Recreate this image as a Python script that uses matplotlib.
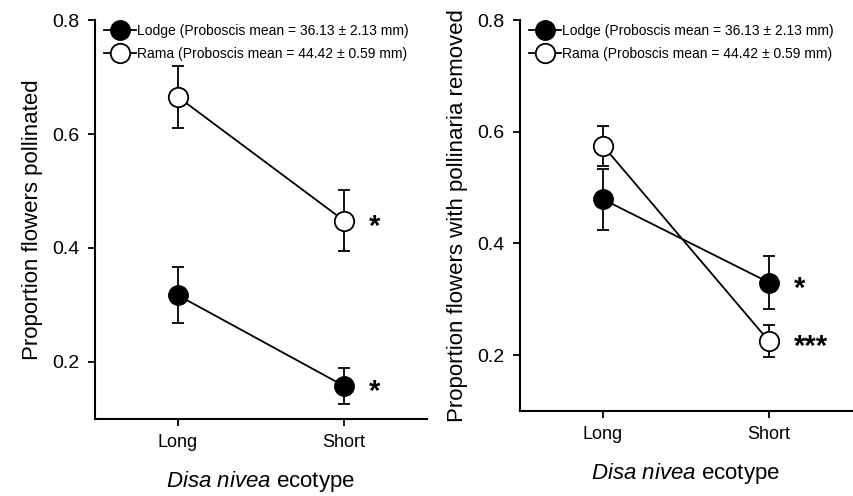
import matplotlib
matplotlib.use("Agg")
import matplotlib.pyplot as plt
from matplotlib.lines import Line2D
import matplotlib.transforms as mtransforms

plt.rcParams['font.family'] = ['Liberation Sans', 'DejaVu Sans']
plt.rcParams['mathtext.fontset'] = 'custom'
plt.rcParams['mathtext.rm'] = 'Liberation Sans'
plt.rcParams['mathtext.it'] = 'Liberation Sans:italic'

categories = ["Long", "Short"]
legend_labels = ["Lodge (Proboscis mean = 36.13 \u00b1 2.13 mm)",
                 "Rama (Proboscis mean = 44.42 \u00b1 0.59 mm)"]

# Panel A: proportion flowers pollinated
pollinated_lodge = [0.317, 0.158]
pollinated_lodge_err = [0.049, 0.032]
pollinated_rama = [0.665, 0.448]
pollinated_rama_err = [0.055, 0.054]
pollinated_sig = ["*", "*"]  # lodge short, rama short

# Panel B: proportion flowers with pollinaria removed
removed_lodge = [0.479, 0.330]
removed_lodge_err = [0.055, 0.047]
removed_rama = [0.575, 0.225]
removed_rama_err = [0.036, 0.029]
removed_sig = ["*", "***"]

yticks = [0.2, 0.4, 0.6, 0.8]

fig = plt.figure(figsize=(8.54, 4.96), dpi=100)
W, H = 854, 496

def make_ax(x0, x1, ytop, ybot):
    return fig.add_axes([x0 / W, 1 - ybot / H, (x1 - x0) / W, (ybot - ytop) / H])

axL = make_ax(95, 427, 20, 419)
axR = make_ax(520, 852, 20, 411)

def draw(ax, lodge, lodge_err, rama, rama_err, sig, ylabel):
    xs = list(range(len(categories)))
    ax.errorbar(xs, lodge, yerr=lodge_err, color='black', lw=1.3, capsize=4.3,
                capthick=1.3, marker='o', ms=14, mfc='black', mec='black', zorder=3)
    ax.errorbar(xs, rama, yerr=rama_err, color='black', lw=1.3, capsize=4.3,
                capthick=1.3, marker='o', ms=14, mfc='white', mec='black', mew=1.3, zorder=3)
    off = mtransforms.offset_copy(ax.transData, fig=fig, x=0, y=-6, units='dots')
    ax.text(1.15, lodge[1], sig[0], fontsize=21, fontweight='bold', ha='left', va='center', transform=off)
    ax.text(1.15, rama[1], sig[1], fontsize=21, fontweight='bold', ha='left', va='center', transform=off)
    ax.set_xlim(-0.5, 1.5)
    ax.set_ylim(0.1, 0.8)
    ax.set_xticks(xs)
    ax.set_xticklabels(categories, fontsize=13)
    ax.set_yticks(yticks)
    ax.set_yticklabels([f"{v:.1f}" for v in yticks], fontsize=14)
    ax.spines['top'].set_visible(False)
    ax.spines['right'].set_visible(False)
    ax.spines['left'].set_linewidth(1.5)
    ax.spines['bottom'].set_linewidth(1.5)
    ax.tick_params(direction='out', length=5, width=1.3, pad=6)
    ax.set_ylabel(ylabel, fontsize=16, labelpad=7)
    ax.set_xlabel(r"$\mathit{Disa\ nivea}$ ecotype", fontsize=16, labelpad=13)
    handles = [
        Line2D([0], [0], color='black', lw=1.3, marker='o', ms=14, mfc='black', mec='black'),
        Line2D([0], [0], color='black', lw=1.3, marker='o', ms=14, mfc='white', mec='black', mew=1.3),
    ]
    ax.legend(handles, legend_labels, loc='upper left', frameon=False, fontsize=10.0,
              handlelength=2.3, handletextpad=0.05, borderaxespad=0.0,
              bbox_to_anchor=(0.01, 1.005), labelspacing=0.65)

draw(axL, pollinated_lodge, pollinated_lodge_err, pollinated_rama, pollinated_rama_err,
     pollinated_sig, "Proportion flowers pollinated")
draw(axR, removed_lodge, removed_lodge_err, removed_rama, removed_rama_err,
     removed_sig, "Proportion flowers with pollinaria removed")

fig.savefig("out.png", dpi=100)
